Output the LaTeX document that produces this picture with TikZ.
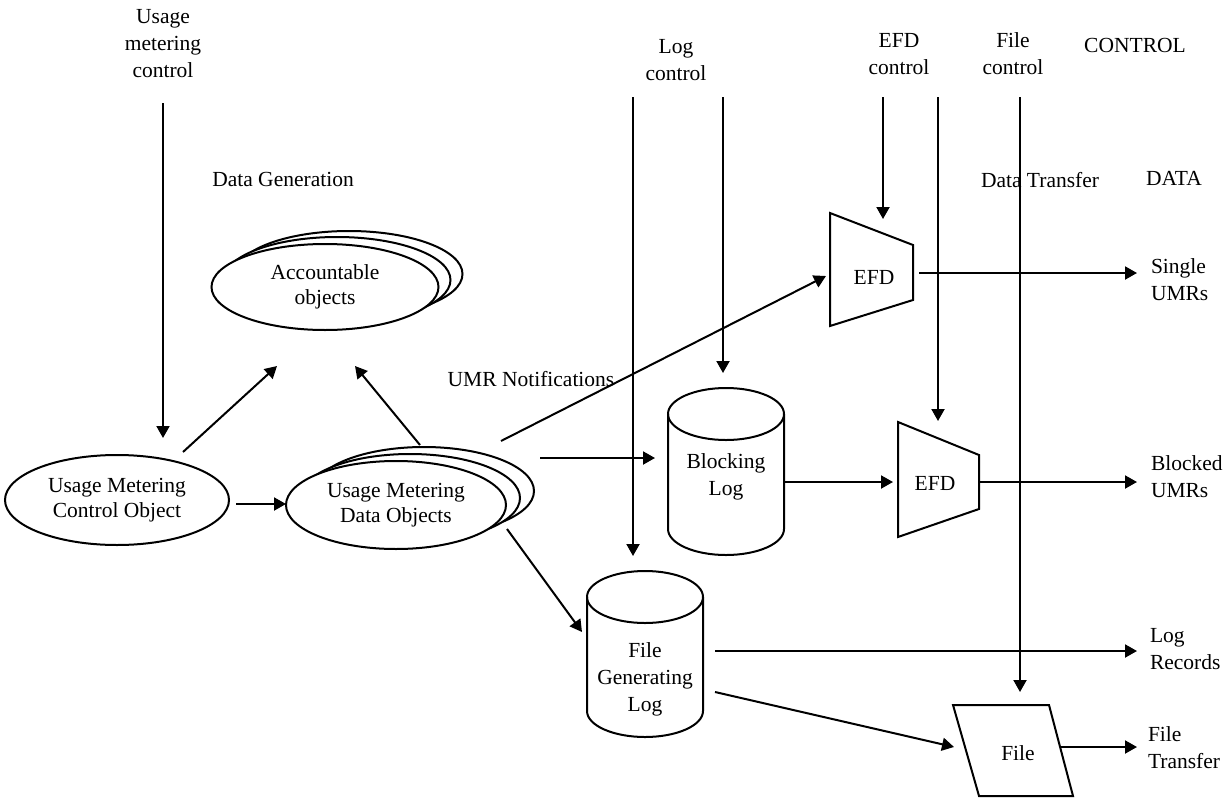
\documentclass[tikz,border=0pt]{standalone}
\usepackage{fontspec}
\setmainfont{Liberation Serif}
\usetikzlibrary{arrows.meta,shapes.geometric}
\begin{document}
\begin{tikzpicture}[x=1pt,y=-1pt,line width=2pt,
  lbl/.style={font=\fontsize{21.5}{27}\selectfont,align=center,inner sep=0pt},
  rlbl/.style={lbl,align=left,anchor=west},
  obj/.style={ellipse,draw,fill=white,line width=2pt,inner sep=0pt,
              font=\fontsize{21.5}{25}\selectfont,align=center},
  arr/.style={-{Triangle[length=12pt,width=13pt]}},
  ]
\useasboundingbox (0,0) rectangle (1229,798);

% ---------- headings ----------
\node[lbl] (umc)   at (163,44)  {Usage\\metering\\control};
\node[lbl] (logc)  at (676,60)  {Log\\control};
\node[lbl] (efdc)  at (899,54)  {EFD\\control};
\node[lbl] (filec) at (1013,54) {File\\control};
\node[lbl] (ctl)   at (1135,45) {CONTROL};
\node[lbl] (dgen)  at (283,179) {Data Generation};
\node[lbl] (dtr)   at (1040,180) {Data Transfer};
\node[lbl] (dat)   at (1174,178) {DATA};
\node[lbl] (umrn)  at (531,379) {UMR Notifications};

% ---------- object ellipses ----------
\node[obj,minimum width=227pt,minimum height=86pt] (acc3) at (349,274) {};
\node[obj,minimum width=227pt,minimum height=86pt] (acc2) at (337,280) {};
\node[obj,minimum width=227pt,minimum height=86pt] (acc)  at (325,287) {Accountable\\objects};

\node[obj,minimum width=224pt,minimum height=90pt] (ctrl) at (117,500) {Usage Metering\\Control Object};

\node[obj,minimum width=220pt,minimum height=88pt] (dobj3) at (424,491) {};
\node[obj,minimum width=220pt,minimum height=88pt] (dobj2) at (410,498) {};
\node[obj,minimum width=220pt,minimum height=88pt] (dobj)  at (396,505) {Usage Metering\\Data Objects};

% ---------- log stores (cylinders) ----------
\draw (726,414) ellipse [x radius=58,y radius=26];
\draw (668,414) -- (668,529) arc[start angle=180,end angle=0,x radius=58,y radius=26] -- (784,414);
\node[lbl] (blog) at (726,477) {Blocking\\Log};

\draw (645,597) ellipse [x radius=58,y radius=26];
\draw (587,597) -- (587,711) arc[start angle=180,end angle=0,x radius=58,y radius=26] -- (703,597);
\node[lbl] (fgl) at (645,679) {File\\Generating\\Log};

% ---------- EFD trapezia and file ----------
\draw (830,213) -- (913,245) -- (913,300) -- (830,326) -- cycle;
\node[lbl] (efd1) at (874,277) {EFD};
\draw (898,422) -- (979,455) -- (979,509) -- (898,537) -- cycle;
\node[lbl] (efd2) at (935,483) {EFD};
\draw (953,705) -- (1049,705) -- (1073,796) -- (979,796) -- cycle;
\node[lbl] (file) at (1018,753) {File};

% ---------- outputs ----------
\node[rlbl] (single)  at (1150,280) {Single\\UMRs};
\node[rlbl] (blocked) at (1150,477) {Blocked\\UMRs};
\node[rlbl] (logrec)  at (1149,649) {Log\\Records};
\node[rlbl] (ftr)     at (1147,748) {File\\Transfer};

% ---------- connector end points ----------
\coordinate (umcS)   at (163,103);  \coordinate (umcE)  at (163,438);
\coordinate (logS1)  at (633,97);   \coordinate (logE1) at (633,556);
\coordinate (logS2)  at (723,97);   \coordinate (logE2) at (723,373);
\coordinate (efdS1)  at (883,97);   \coordinate (efdE1) at (883,219);
\coordinate (efdS2)  at (938,97);   \coordinate (efdE2) at (938,421);
\coordinate (fileS)  at (1020,97);  \coordinate (fileE) at (1020,692);

\coordinate (ctrlA)  at (183,452);  \coordinate (accA)  at (277,366);
\coordinate (dobjA)  at (420,445);  \coordinate (accB)  at (355,366);
\coordinate (ctrlR)  at (236,504);  \coordinate (dobjL) at (286,504);
\coordinate (dobjN)  at (501,441);  \coordinate (efd1W) at (826,276);
\coordinate (dobjR)  at (540,458);  \coordinate (blogW) at (655,458);
\coordinate (dobjS)  at (507,529);  \coordinate (fglW)  at (582,632);
\coordinate (blogR)  at (785,482);  \coordinate (efd2W) at (893,482);
\coordinate (efd1E)  at (919,273);  \coordinate (singW) at (1137,273);
\coordinate (efd2E)  at (979,482);  \coordinate (blkW)  at (1137,482);
\coordinate (fglR)   at (715,651);  \coordinate (lrecW) at (1137,651);
\coordinate (fglB)   at (715,692);  \coordinate (fileW) at (954,747);
\coordinate (fileR)  at (1061,747); \coordinate (ftrW)  at (1137,747);

% ---------- control flows ----------
\draw[arr] (umcS)  -- (umcE);
\draw[arr] (logS1) -- (logE1);
\draw[arr] (logS2) -- (logE2);
\draw[arr] (efdS1) -- (efdE1);
\draw[arr] (efdS2) -- (efdE2);
\draw[arr] (fileS) -- (fileE);

% ---------- data flows ----------
\draw[arr] (ctrlA) -- (accA);
\draw[arr] (dobjA) -- (accB);
\draw[arr] (ctrlR) -- (dobjL);
\draw[arr] (dobjN) -- (efd1W);
\draw[arr] (dobjR) -- (blogW);
\draw[arr] (dobjS) -- (fglW);
\draw[arr] (blogR) -- (efd2W);
\draw[arr] (efd1E) -- (singW);
\draw[arr] (efd2E) -- (blkW);
\draw[arr] (fglR)  -- (lrecW);
\draw[arr] (fglB)  -- (fileW);
\draw[arr] (fileR) -- (ftrW);
\end{tikzpicture}
\end{document}
